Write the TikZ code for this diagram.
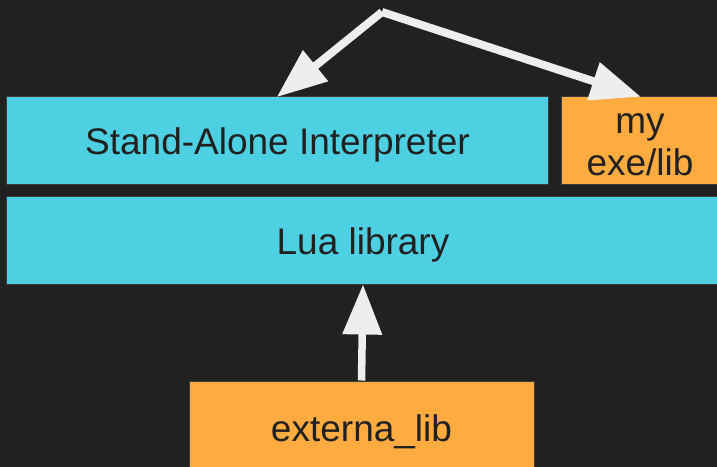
\documentclass[tikz,border=0pt]{standalone}
\usepackage{fontspec}
\setmainfont{Liberation Sans}
\usetikzlibrary{arrows.meta}
\definecolor{bgdark}{HTML}{212121}
\definecolor{boxcyan}{HTML}{4DD0E1}
\definecolor{boxorange}{HTML}{FFAB40}
\definecolor{arrowgray}{HTML}{EEEEEE}
\definecolor{textdark}{HTML}{212121}
\definecolor{edgegray}{HTML}{3C3C3C}
\tikzset{
  block/.style={draw=edgegray, line width=1bp, inner sep=0pt, text=textdark,
    font=\fontsize{37bp}{42bp}\selectfont, align=center},
  oneline/.style={text height=35bp, text depth=7.8bp},
  cyanblock/.style={block, fill=boxcyan},
  orangeblock/.style={block, fill=boxorange},
  flow/.style={draw=arrowgray, line width=8bp,
    -{Triangle[length=50bp,width=38bp]}, shorten >=-1bp}
}
\begin{document}
\begin{tikzpicture}[x=1bp,y=-1bp]
  \useasboundingbox (0,0) rectangle (717,467);
  \fill[bgdark] (0,0) rectangle (717,467);
  \clip (0,0) rectangle (717,467);

  % boxes
  \node[cyanblock, oneline, minimum width=541bp, minimum height=88bp] (sa) at (277.5,141) {Stand-Alone Interpreter};
  \node[orangeblock, text height=70bp, text depth=0.5bp, minimum width=158bp, minimum height=88bp] (exe) at (640,141) {my\\exe/lib};
  \node[cyanblock, oneline, minimum width=712bp, minimum height=88bp] (lua) at (363,241) {Lua library};
  \node[orangeblock, oneline, minimum width=345bp, minimum height=94bp] (ext) at (361.5,428) {externa\_lib};

  % arrows
  \coordinate (apex) at (382,12);
  \draw[flow] (apex) -- (sa.north);
  \draw[flow] (apex) -- (exe.north);
  \draw[flow, line width=7.5bp] (ext.north) -- (lua.south);
\end{tikzpicture}
\end{document}
